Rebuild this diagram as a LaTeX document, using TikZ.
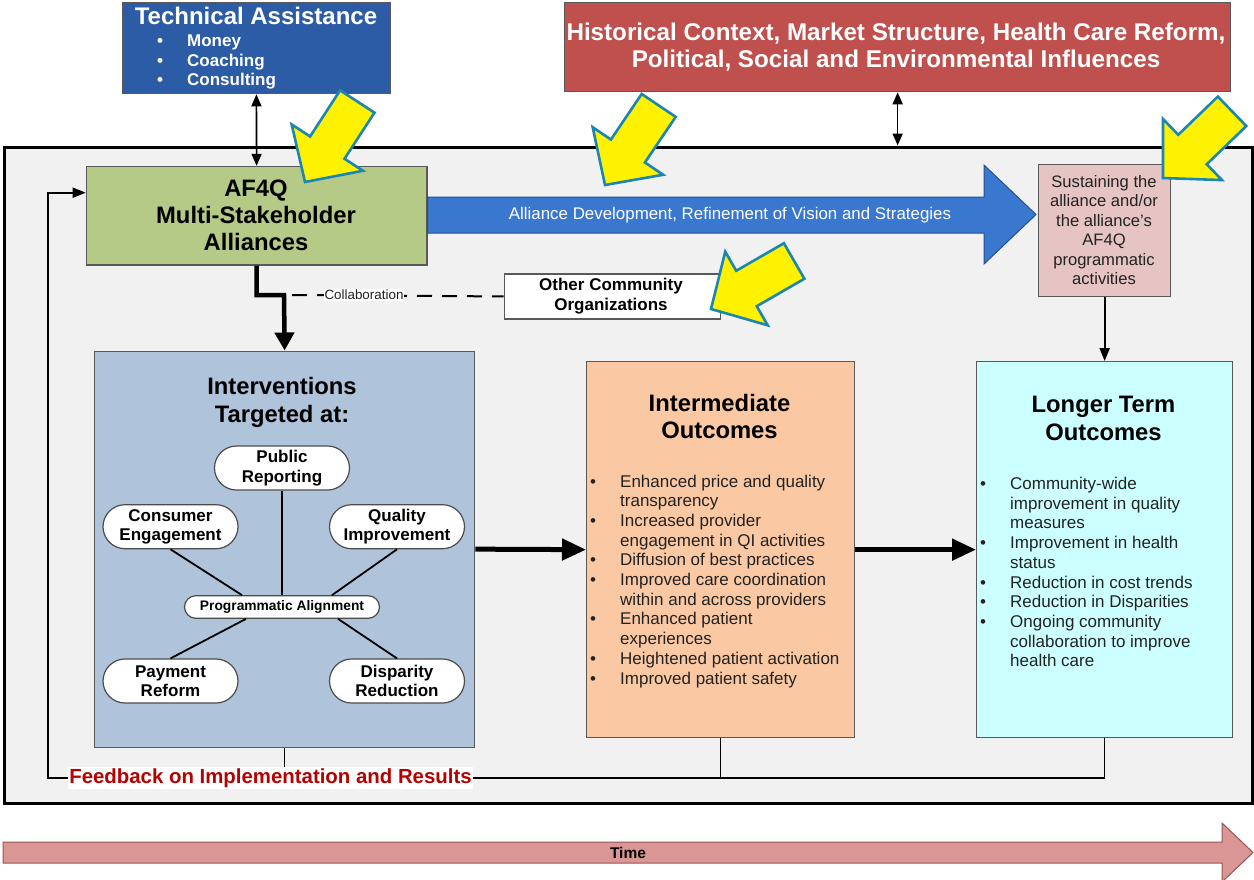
\documentclass[tikz,border=0pt]{standalone}
\usepackage{fontspec}
\setmainfont{Liberation Sans}
\usetikzlibrary{arrows.meta,shapes.misc,calc}
\definecolor{frameGray}{HTML}{F1F1F1}
\definecolor{taBlue}{HTML}{2C5CA6}
\definecolor{histRed}{HTML}{C0504D}
\definecolor{afGreen}{HTML}{B6CA87}
\definecolor{arrBlue}{HTML}{3A78CF}
\definecolor{arrEdge}{HTML}{24508F}
\definecolor{sustPink}{HTML}{E7C4C4}
\definecolor{intBlue}{HTML}{AFC3DB}
\definecolor{midPeach}{HTML}{FAC9A3}
\definecolor{ltCyan}{HTML}{CCFFFF}
\definecolor{fbRed}{HTML}{B80000}
\definecolor{timeRed}{HTML}{D99694}
\definecolor{timeEdge}{HTML}{9A5553}
\definecolor{yOutline}{HTML}{1C86B2}
\definecolor{txtDark}{HTML}{222222}
\newcommand{\fs}[2]{\fontsize{#1}{#2}\selectfont}
\newcommand{\yelarrow}[3]{\draw[yarrow, shift={#1}, rotate=#2] (0,0) -- (-41,42.5) -- (-41,20.5) -- (-96,20.5) -- (-96,-20.5) -- (-41,-20.5) -- (-41,-42.5) -- cycle; \coordinate (#3) at #1;}
\begin{document}
\begin{tikzpicture}[x=1pt,y=-1pt,
  box/.style={draw=black!65, line width=1.3pt, inner sep=0pt, anchor=north west},
  oval/.style={rounded rectangle, draw=black!70, fill=white, line width=1.2pt, minimum width=135pt, minimum height=44pt, inner sep=0pt, align=center, font=\bfseries\fs{17}{19.3}},
  ttl/.style={align=center, inner sep=0pt, font=\bfseries\fs{23.8}{27.5}},
  thinln/.style={line width=1.6pt},
  spoke/.style={line width=1.8pt},
  smalltip/.style={-{Triangle[length=13pt,width=10pt]}},
  bigtip/.style={line width=5pt, -{Triangle[length=24pt,width=21pt]}},
  yarrow/.style={fill=yellow, draw=yOutline, line width=2.6pt, line join=miter},
  lst/.style={anchor=base west, inner sep=0pt, text=txtDark, font=\fs{17}{19.7}},
]
\path[use as bounding box, fill=white] (0,0) rectangle (1254,879);

% outer frame
\node[draw=black, line width=3pt, fill=frameGray, minimum width=1248pt, minimum height=656pt, anchor=north west, inner sep=0pt] (frame) at (3,145.5) {};

% time arrow
\draw[fill=timeRed, draw=timeEdge, line width=1pt] (3,842) -- (1222,842) -- (1222,823) -- (1253,852.5) -- (1222,882) -- (1222,863) -- (3,863) -- cycle;
\node[font=\bfseries\fs{15.5}{18}, inner sep=0pt] (time) at (628,852.5) {Time};

% technical assistance
\node[box, fill=taBlue, minimum width=267.5pt, minimum height=91pt] (ta) at (122,2) {};
\node[font=\bfseries\fs{24}{27}, text=white, inner sep=0pt] (tat) at (256,16) {Technical Assistance};
\node[anchor=base west, inner sep=0pt, text=white, font=\bfseries\fs{17}{19.6}] (tal) at (157,46.5) {\begin{tabular}[t]{@{}l@{}l@{}}\makebox[30pt][l]{\textbullet}&Money\\ \textbullet&Coaching\\ \textbullet&Consulting\end{tabular}};

% historical context
\node[box, fill=histRed, minimum width=666pt, minimum height=89pt] (hist) at (564,2) {};
\node[ttl, font=\bfseries\fs{24.2}{27.5}, text=white] (histt) at (896,47) {Historical Context, Market Structure, Health Care Reform,\\Political, Social and Environmental Influences};

% AF4Q
\node[box, fill=afGreen, minimum width=340.5pt, minimum height=98.5pt] (af) at (85.7,165.8) {};
\node[ttl, font=\bfseries\fs{23.8}{27}] (aft) at (256,215.5) {AF4Q\\Multi-Stakeholder\\Alliances};

% blue development arrow
\draw[fill=arrBlue, draw=arrEdge, line width=1pt] (af.east |- 0,197) -- (984,197) -- (984,165) -- (1036,214.5) -- (984,264) -- (984,233) -- (af.east |- 0,233) -- cycle;
\node[text=white, font=\fs{16.9}{19}, inner sep=0pt] (adv) at (730,215) {Alliance Development, Refinement of Vision and Strategies};

% sustaining
\node[box, fill=sustPink, minimum width=132pt, minimum height=132pt] (sust) at (1038,164) {};
\node[align=center, inner sep=0pt, text=txtDark, font=\fs{16.6}{19.4}] (sustt) at (1104,230) {Sustaining the\\alliance and/or\\the alliance's\\AF4Q\\programmatic\\activities};

% other community organizations
\node[box, fill=white, minimum width=216.5pt, minimum height=45pt] (oth) at (503.5,273.3) {};
\node[align=center, inner sep=0pt, font=\bfseries\fs{17}{19.3}] (otht) at (611,296) {Other Community\\Organizations};

% interventions
\node[box, fill=intBlue, minimum width=380pt, minimum height=396pt] (int) at (94,350.5) {};
\node[ttl, font=\bfseries\fs{23.8}{28}] (intt) at (282,402) {Interventions\\Targeted at:};
\node[oval] (pr) at (282,468) {Public\\Reporting};
\node[oval] (ce) at (170.5,526.7) {Consumer\\Engagement};
\node[oval] (qi) at (397,526.7) {Quality\\Improvement};
\node[oval, minimum width=195pt, minimum height=22.5pt, font=\bfseries\fs{13.8}{16}] (pa) at (282,607) {Programmatic Alignment};
\node[oval] (pm) at (170.5,681) {Payment\\Reform};
\node[oval] (dr) at (397,681) {Disparity\\Reduction};
\draw[spoke] (pr.south) -- (pa.north);
\draw[spoke] (ce.south) -- ([xshift=-40pt]pa.north);
\draw[spoke] (qi.south) -- ([xshift=50pt]pa.north);
\draw[spoke] (pm.north) -- ([xshift=-36pt]pa.south);
\draw[spoke] (dr.north) -- ([xshift=56pt]pa.south);

% intermediate outcomes
\node[box, fill=midPeach, minimum width=268pt, minimum height=376pt] (mid) at (586,361) {};
\node[ttl] (midt) at (719.5,416.5) {Intermediate\\Outcomes};
\node[lst] (midl) at (590,487) {\begin{tabular}[t]{@{}l@{}l@{}}\makebox[30pt][l]{\textbullet}&Enhanced price and quality\\ &transparency\\ \textbullet&Increased provider\\ &engagement in QI activities\\ \textbullet&Diffusion of best practices\\ \textbullet&Improved care coordination\\ &within and across providers\\ \textbullet&Enhanced patient\\ &experiences\\ \textbullet&Heightened patient activation\\ \textbullet&Improved patient safety\end{tabular}};

% longer term outcomes
\node[box, fill=ltCyan, minimum width=256pt, minimum height=376pt] (lto) at (976,361) {};
\node[ttl] (ltot) at (1103.5,418.5) {Longer Term\\Outcomes};
\node[lst] (ltol) at (980,489.5) {\begin{tabular}[t]{@{}l@{}l@{}}\makebox[30pt][l]{\textbullet}&Community-wide\\ &improvement in quality\\ &measures\\ \textbullet&Improvement in health\\ &status\\ \textbullet&Reduction in cost trends\\ \textbullet&Reduction in Disparities\\ \textbullet&Ongoing community\\ &collaboration to improve\\ &health care\end{tabular}};

% connectors
\draw[thinln, {Triangle[length=12pt,width=10pt]}-{Triangle[length=12pt,width=10pt]}] (ta.south) -- (af.north);
\draw[thinln, {Triangle[length=12pt,width=10pt]}-{Triangle[length=12pt,width=10pt]}] (hist.south) -- (hist.south |- frame.north);
\coordinate (jog) at (284,295);
\draw[line width=4.5pt, line join=miter, -{Triangle[length=18pt,width=19pt]}] (af.south) |- (jog) -- (int.north);
\draw[line width=2pt, dash pattern=on 15pt off 10pt] ([xshift=8pt]jog) -- (oth.west);
\node[fill=white, inner sep=1pt, font=\fs{13.4}{15}, text=txtDark] (col) at (364,295) {Collaboration};
\draw[line width=2.2pt, smalltip] (sust.south) -- (lto.north);
\draw[bigtip] (int.east) -- (mid.west);
\draw[bigtip] (mid.east) -- (lto.west);

% feedback loop
\coordinate (fbl) at (48,778);
\draw[thinln] (int.south) -- (int.south |- fbl);
\draw[thinln] (mid.south) -- (mid.south |- fbl);
\draw[thinln, line join=miter, smalltip] (lto.south) -- (lto.south |- fbl) -- (fbl) |- ($(af.west)+(0,-23)$);
\node[fill=white, inner sep=1.5pt, text=fbRed, font=\bfseries\fs{20.4}{22}] (fb) at (270.5,778) {Feedback on Implementation and Results};

% yellow highlight arrows
\yelarrow{(305,182)}{237}{ya1}
\yelarrow{(605,185)}{236}{ya2}
\yelarrow{(1163,178)}{224}{ya3}
\yelarrow{(711,309)}{210}{ya4}
\end{tikzpicture}
\end{document}
